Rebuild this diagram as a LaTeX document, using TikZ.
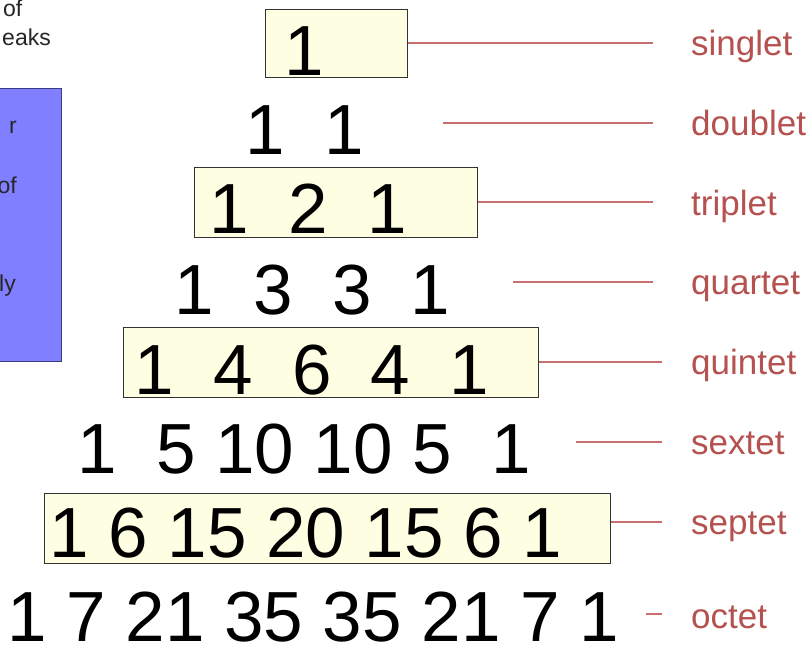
\documentclass[tikz,border=0pt]{standalone}
\usepackage{fontspec}
\setmainfont{Liberation Sans}
\usetikzlibrary{positioning}
\definecolor{border}{HTML}{333333}
\definecolor{fillRow}{HTML}{FEFEE2}
\definecolor{fillInfo}{HTML}{7F7FFF}
\definecolor{infoBorder}{HTML}{3B3B80}
\definecolor{labelRed}{HTML}{B5514F}
\definecolor{linkRed}{HTML}{C87070}
\tikzset{
  rowbox/.style={
    rectangle, draw=border, fill=fillRow, line width=1pt, inner sep=0pt,
  },
  digits/.style={
    anchor=base west, inner sep=0pt, font=\fontsize{71}{71}\selectfont,
  },
  multlabel/.style={
    anchor=base west, inner sep=0pt, text=labelRed,
    font=\fontsize{35}{35}\selectfont,
  },
  link/.style={draw=linkRed, line width=1.3pt},
  infobox/.style={rectangle, draw=infoBorder, fill=fillInfo, line width=1pt},
  sidetext/.style={
    anchor=base east, inner sep=0pt, text=black!85,
    font=\fontsize{23}{23}\selectfont,
  },
}

\begin{document}
\begin{tikzpicture}[x=1pt, y=-1pt]

  \clip (0,0) rectangle (811,646);
  \fill[white] (0,0) rectangle (811,646);

  % Cut-off side panel
  \node[sidetext, anchor=base west] (sideof) at (3,16) {of};
  \node[sidetext] (sidepeaks) at (51,45) {eaks};
  \node[infobox, minimum width=72pt, minimum height=273pt] (info) at (25,224.5) {};
  \node[sidetext] (infor) at (17,133) {r};
  \node[sidetext] (infoof) at (17,193) {of};
  \node[sidetext] (infoly) at (16,291) {ly};

  % Framed rows
  \node[rowbox, minimum width=142pt, minimum height=68pt] (box1) at (336,43) {};
  \node[rowbox, minimum width=283pt, minimum height=70pt] (box3) at (335.5,202) {};
  \node[rowbox, minimum width=415pt, minimum height=70pt] (box5) at (330.5,362) {};
  \node[rowbox, minimum width=566pt, minimum height=70pt] (box7) at (327,528) {};

  % Pascal rows
  \node[digits] (row1) at (284,75) {1};
  \node[digits] (row2) at (245,154) {1~~1};
  \node[digits] (row3) at (209,233) {1~~2~~1};
  \node[digits] (row4) at (174,314) {1~~3~~3~~1};
  \node[digits] (row5) at (134,394) {1~~4~~6~~4~~1};
  \node[digits] (row6) at (77,473) {1~~5 10 10 5~~1};
  \node[digits] (row7) at (49,557) {1 6 15 20 15 6 1};
  \node[digits] (row8) at (7,641) {1 7 21 35 35 21 7 1};

  % Multiplet names
  \node[multlabel] (lab1) at (691,55) {singlet};
  \node[multlabel] (lab2) at (691,135) {doublet};
  \node[multlabel] (lab3) at (691,215) {triplet};
  \node[multlabel] (lab4) at (691,294) {quartet};
  \node[multlabel] (lab5) at (691,374) {quintet};
  \node[multlabel] (lab6) at (691,454) {sextet};
  \node[multlabel] (lab7) at (691,534) {septet};
  \node[multlabel] (lab8) at (691,628) {octet};

  \coordinate (s2) at (443,123);
  \coordinate (s4) at (513,282);
  \coordinate (s6) at (576,442);
  \coordinate (s8) at (646,614);

  \draw[link, shorten >=38pt] (box1.east) -- (box1.east -| lab1.west);
  \draw[link, shorten >=38pt] (s2) -- (s2 -| lab2.west);
  \draw[link, shorten >=38pt] (box3.east) -- (box3.east -| lab3.west);
  \draw[link, shorten >=38pt] (s4) -- (s4 -| lab4.west);
  \draw[link, shorten >=29pt] (box5.east) -- (box5.east -| lab5.west);
  \draw[link, shorten >=29pt] (s6) -- (s6 -| lab6.west);
  \draw[link, shorten >=29pt] ([yshift=6pt]box7.east) -- ([yshift=6pt]box7.east -| lab7.west);
  \draw[link, shorten >=29pt] (s8) -- (s8 -| lab8.west);

\end{tikzpicture}
\end{document}
